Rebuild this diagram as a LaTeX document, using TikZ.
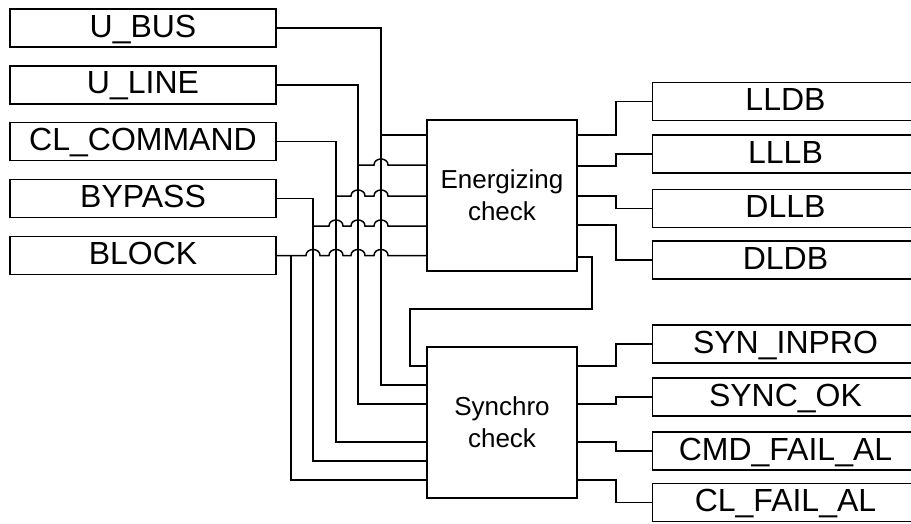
\documentclass[tikz,border=0pt]{standalone}
\usepackage{fontspec}
\setmainfont{Liberation Sans}
\begin{document}
\begin{tikzpicture}[x=1pt,y=-1pt,line width=1.5pt,
  lbl/.style={draw,minimum width=266pt,minimum height=38pt,inner sep=0pt,
    font=\fontsize{32}{38}\selectfont,text height=23pt,text depth=5pt},
  fbox/.style={draw,minimum width=150pt,minimum height=151pt,inner sep=0pt,
    align=center,font=\fontsize{26}{31.7}\selectfont},
  hop/.style 2 args={insert path={-- (#1-7,#2) .. controls (#1-7,#2-8) and (#1+7,#2-8) .. (#1+7,#2)}}]
\useasboundingbox (0,0) rectangle (911,523);
\clip (0,0) rectangle (911,523);
% left inputs
\node[lbl] (ubus)  at (143,28)    {U\_BUS};
\node[lbl] (uline) at (143,84.75) {U\_LINE};
\node[lbl] (clc)   at (143,141.5) {CL\_COMMAND};
\node[lbl] (byp)   at (143,198.25){BYPASS};
\node[lbl] (blk)   at (143,255.5) {BLOCK};
% function blocks
\node[fbox] (en) at (502,195.5) {Energizing\\check};
\node[fbox] (sy) at (502,422.5) {Synchro\\check};
% right outputs
\node[lbl] (lldb)  at (785.5,101.5) {LLDB};
\node[lbl] (lllb)  at (785.5,154)   {LLLB};
\node[lbl] (dllb)  at (785.5,208.5) {DLLB};
\node[lbl] (dldb)  at (785.5,260)   {DLDB};
\node[lbl] (synin) at (785.5,344)   {SYN\_INPRO};
\node[lbl] (synok) at (785.5,397)   {SYNC\_OK};
\node[lbl] (cmdf)  at (785.5,451)   {CMD\_FAIL\_AL};
\node[lbl] (clf)   at (785.5,502.5) {CL\_FAIL\_AL};
% ports
\coordinate (e1) at (427,135);
\coordinate (e2) at (427,165);
\coordinate (e3) at (427,196);
\coordinate (e4) at (427,226);
\coordinate (e5) at (427,255.5);
\coordinate (s1) at (427,366);
\coordinate (s2) at (427,385);
\coordinate (s3) at (427,404);
\coordinate (s4) at (427,442);
\coordinate (s5) at (427,461);
\coordinate (s6) at (427,480);
\coordinate (eo1) at (577,135);
\coordinate (eo2) at (577,166);
\coordinate (eo3) at (577,196);
\coordinate (eo4) at (577,225);
\coordinate (ef)  at (577,257);
\coordinate (so1) at (577,366);
\coordinate (so2) at (577,404);
\coordinate (so3) at (577,442);
\coordinate (so4) at (577,480);
% junctions
\coordinate (j1) at (381,135);
\coordinate (j2) at (358,165);
\coordinate (j3) at (336,196);
\coordinate (j4) at (313,226);
\coordinate (j5) at (291,255.5);
% input wiring
\draw (ubus.east) -| (381,385) -- (s2);
\draw (j1) -- (e1);
\draw (uline.east) -| (358,404) -- (s3);
\draw (j2) [hop={381}{165}] -- (e2);
\draw (clc.east) -| (336,442) -- (s4);
\draw (j3) [hop={358}{196}] [hop={381}{196}] -- (e3);
\draw (byp.east) -| (313,461) -- (s5);
\draw (j4) [hop={336}{226}] [hop={358}{226}] [hop={381}{226}] -- (e4);
\draw (blk.east) [hop={313}{255.5}] [hop={336}{255.5}] [hop={358}{255.5}] [hop={381}{255.5}] -- (e5);
\draw (j5) -- (291,480) -- (s6);
% feedback
\draw (ef) -- (592,257) -- (592,309) -- (410,309) -- (410,366) -- (s1);
% outputs
\draw (eo1) -- (616,135) |- (lldb.west);
\draw (eo2) -- (616,166) |- (lllb.west);
\draw (eo3) -- (616,196) |- (dllb.west);
\draw (eo4) -- (616,225) |- (dldb.west);
\draw (so1) -- (616,366) |- (synin.west);
\draw (so2) -- (616,404) |- (synok.west);
\draw (so3) -- (616,442) |- (cmdf.west);
\draw (so4) -- (616,480) |- (clf.west);
\end{tikzpicture}
\end{document}
